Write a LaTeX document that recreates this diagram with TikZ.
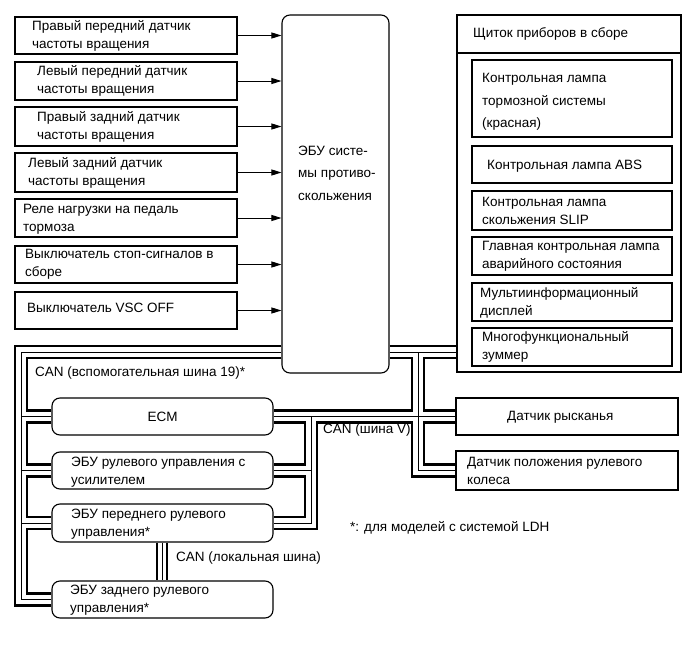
\documentclass[tikz,border=0pt]{standalone}
\usepackage{fontspec}
\setmainfont{Liberation Sans}
\usetikzlibrary{arrows.meta,calc}
\begin{document}
\begin{tikzpicture}[x=1pt,y=-1pt,
  box/.style={draw, line width=1.1pt, inner sep=0pt},
  ecu/.style={box, rounded corners=8pt},
  txt/.style={inner sep=0pt, anchor=west, align=left, font=\fontsize{13.5}{18}\selectfont},
  txtw/.style={txt, font=\fontsize{13.5}{22.5}\selectfont},
  sig/.style={line width=1pt, -{Triangle[length=10pt,width=6pt]}},
  thk/.style={line width=2.4pt},
  thn/.style={line width=0.9pt},
]
\fill[white] (0,0) rectangle (689,659);
\useasboundingbox (0,0) rectangle (689,659);

% left input boxes
\node[box, minimum width=222pt, minimum height=37pt] (s1) at (126,35.5) {};
\node[box, minimum width=222pt, minimum height=38pt] (s2) at (126,81) {};
\node[box, minimum width=222pt, minimum height=39pt] (s3) at (126,126.5) {};
\node[box, minimum width=222pt, minimum height=39pt] (s4) at (126,172.5) {};
\node[box, minimum width=222pt, minimum height=38pt] (s5) at (126,218) {};
\node[box, minimum width=222pt, minimum height=37pt] (s6) at (126,264.5) {};
\node[box, minimum width=222pt, minimum height=37pt] (s7) at (126,310.5) {};
\node[txt] (t1) at (32,35.5) {Правый передний датчик\\частоты вращения};
\node[txt] (t2) at (37,81) {Левый передний датчик\\частоты вращения};
\node[txt] (t3) at (37,127) {Правый задний датчик\\частоты вращения};
\node[txt] (t4) at (28,173) {Левый задний датчик\\частоты вращения};
\node[txt] (t5) at (23,219) {Реле нагрузки на педаль\\тормоза};
\node[txt] (t6) at (25,264.5) {Выключатель стоп-сигналов в\\сборе};
\node[txt] (t7) at (27,308) {Выключатель VSC OFF};

% ABS ECU
\node[ecu, minimum width=107pt, minimum height=358pt] (abs) at (335.5,194) {};
\node[txtw] (tabs) at (298,173) {ЭБУ систе-\\мы противо-\\скольжения};

\foreach \i in {1,...,7} \draw[sig] (s\i.east) -- (s\i.east -| abs.west);

% cluster
\node[box, minimum width=224pt, minimum height=357pt] (cluster) at (569,193.5) {};
\draw[line width=1.1pt] (cluster.west |- 0,53) -- (cluster.east |- 0,53);
\node[txt] (tcl) at (473,34) {Щиток приборов в сборе};
\node[box, minimum width=200pt, minimum height=77pt] (la) at (572,98.5) {};
\node[box, minimum width=200pt, minimum height=37pt] (lb) at (572,164.5) {};
\node[box, minimum width=200pt, minimum height=39pt] (lc) at (572,210.5) {};
\node[box, minimum width=200pt, minimum height=38pt] (ld) at (572,256) {};
\node[box, minimum width=200pt, minimum height=38pt] (le) at (572,302) {};
\node[box, minimum width=200pt, minimum height=38pt] (lf) at (572,347) {};
\node[txtw] (tla) at (482,102) {Контрольная лампа\\тормозной системы\\(красная)};
\node[txt] (tlb) at (487,166) {Контрольная лампа ABS};
\node[txt] (tlc) at (482,211) {Контрольная лампа\\скольжения SLIP};
\node[txt] (tld) at (482,256.5) {Главная контрольная лампа\\аварийного состояния};
\node[txt] (tle) at (480,302.5) {Мультиинформационный\\дисплей};
\node[txt] (tlf) at (482,347) {Многофункциональный\\зуммер};

% right sensors
\node[box, minimum width=222pt, minimum height=37pt] (yaw) at (567,416.5) {};
\node[box, minimum width=222pt, minimum height=39pt] (steer) at (567,470.5) {};
\node[txt] (tyaw) at (507,417) {Датчик рысканья};
\node[txt] (tsteer) at (467,471) {Датчик положения рулевого\\колеса};

% left ECUs
\node[ecu, minimum width=221pt, minimum height=37pt] (ecm) at (162.5,416.5) {};
\node[ecu, minimum width=221pt, minimum height=37pt] (eps) at (162.5,470.5) {};
\node[ecu, minimum width=221pt, minimum height=38pt] (fsteer) at (162.5,523) {};
\node[ecu, minimum width=221pt, minimum height=37pt] (rear) at (162.5,599.5) {};
\node[inner sep=0pt, font=\fontsize{13.5}{18}\selectfont] (tecm) at (162.5,416.5) {ECM};
\node[txt] (teps) at (71,472) {ЭБУ рулевого управления с\\усилителем};
\node[txt] (tfs) at (71,524) {ЭБУ переднего рулевого\\управления*};
\node[txt] (trs) at (70,600) {ЭБУ заднего рулевого\\управления*};

% bus labels
\node[txt] (lb19) at (35,373) {CAN (вспомогательная шина 19)*};
\node[txt] (lbv) at (323,430) {CAN (шина V)};
\node[txt] (lbl) at (176,558) {CAN (локальная шина)};
\node[txt] (note) at (350,528) {*: для моделей с системой LDH};

% aux bus 19
\draw[thk] (abs.west |- 0,346) -| (15,605.5) -- (rear.west |- 0,605.5);
\draw[thn] (abs.west |- 0,352) -| (21,599.5) -- (rear.west |- 0,599.5);
\draw[thn] (21,416.5) -- (ecm.west |- 0,416.5);
\draw[thn] (21,470.5) -- (eps.west |- 0,470.5);
\draw[thn] (21,523) -- (fsteer.west |- 0,523);
\draw[thk] (abs.west |- 0,358) -| (27,410.5) -- (ecm.west |- 0,410.5);
\draw[thk] (ecm.west |- 0,422.5) -| (27,464.5) -- (eps.west |- 0,464.5);
\draw[thk] (eps.west |- 0,476.5) -| (27,517) -- (fsteer.west |- 0,517);
\draw[thk] (fsteer.west |- 0,529) -| (27,593.5) -- (rear.west |- 0,593.5);

% V bus
\draw[thk] (abs.east |- 0,346) -- (cluster.west |- 0,346);
\draw[thn] (abs.east |- 0,352) -- (cluster.west |- 0,352);
\draw[thn] (418,352) -- (418,470.5) -- (steer.west |- 0,470.5);
\draw[thk] (abs.east |- 0,358) -| (412,410.5) -- (ecm.east |- 0,410.5);
\draw[thk] (cluster.west |- 0,358) -| (424,410.5) -- (yaw.west |- 0,410.5);
\draw[thn] (ecm.east |- 0,416.5) -- (yaw.west |- 0,416.5);
\draw[thn] (311,416.5) -- (311,523) -- (fsteer.east |- 0,523);
\draw[thn] (311,470.5) -- (eps.east |- 0,470.5);
\draw[thk] (ecm.east |- 0,422.5) -| (305,464.5) -- (eps.east |- 0,464.5);
\draw[thk] (eps.east |- 0,476.5) -| (305,517) -- (fsteer.east |- 0,517);
\draw[thk] (fsteer.east |- 0,529) -| (317,422.5) -| (412,476.5) -- (steer.west |- 0,476.5);
\draw[thk] (yaw.west |- 0,422.5) -| (424,464.5) -- (steer.west |- 0,464.5);

% local bus
\draw[thk] (fsteer.south -| 157,0) -- (rear.north -| 157,0);
\draw[thn] (fsteer.south -| 162,0) -- (rear.north -| 162,0);
\draw[thk] (fsteer.south -| 167,0) -- (rear.north -| 167,0);
\end{tikzpicture}
\end{document}
